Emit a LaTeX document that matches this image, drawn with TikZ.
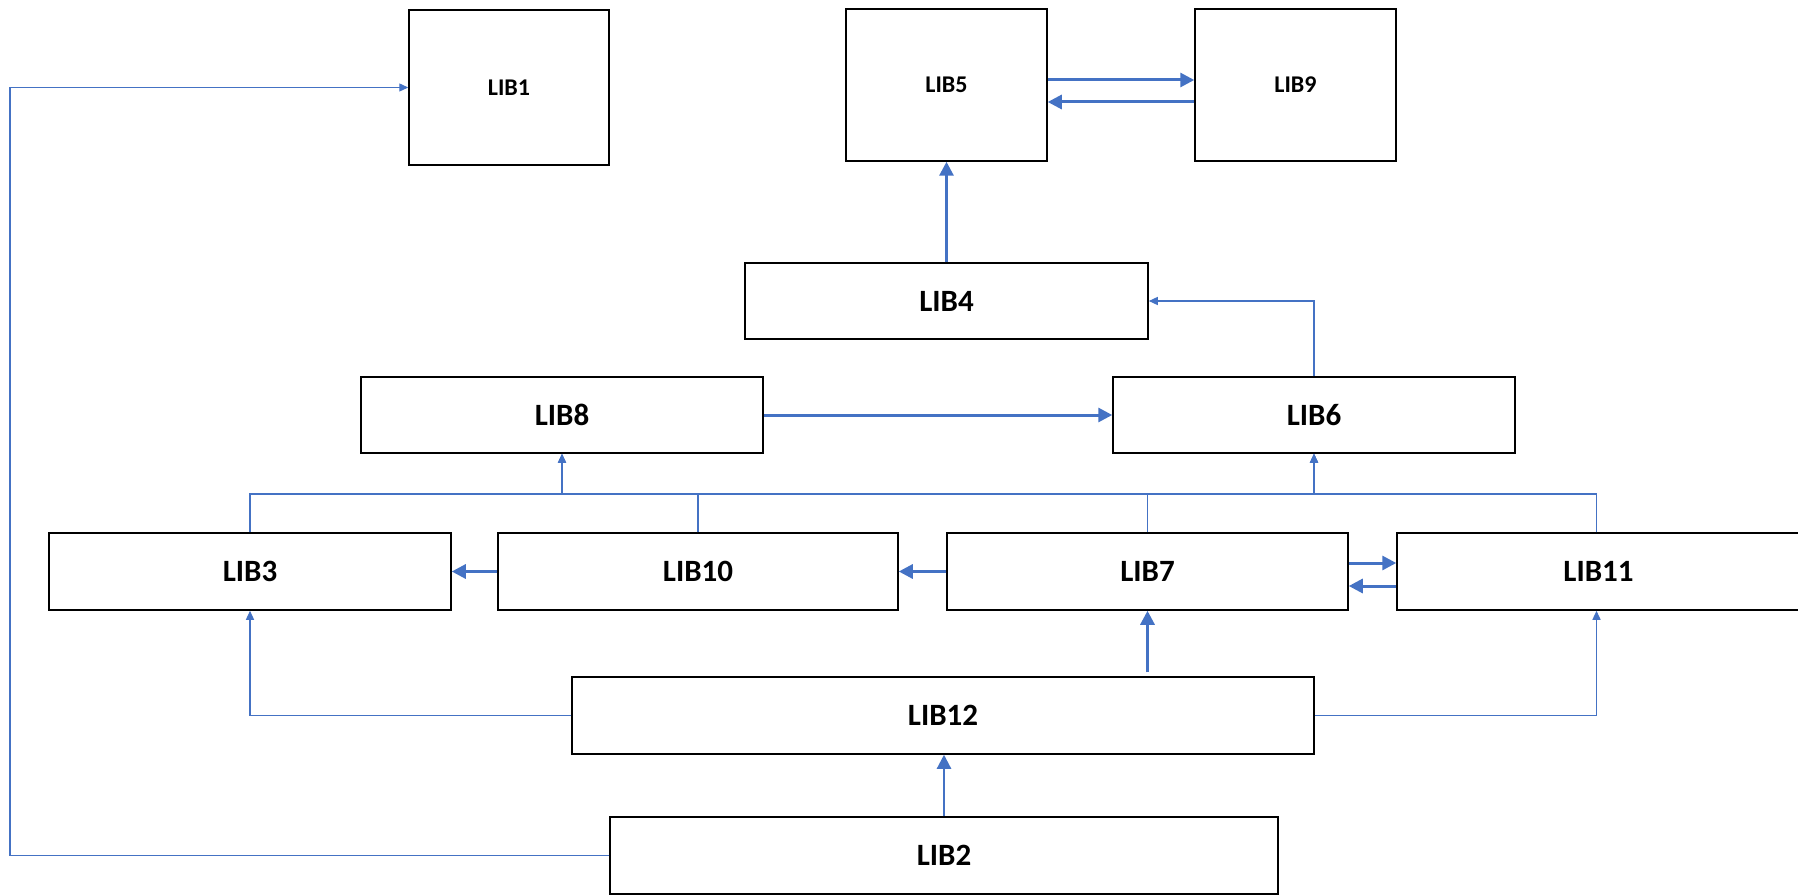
\documentclass[tikz,border=0pt]{standalone}
\usepackage{fontspec}
\setmainfont{Carlito}
\usetikzlibrary{arrows.meta}
\definecolor{conn}{RGB}{68,114,196}
\tikzset{
  box/.style={draw=black, line width=1.5pt, fill=white, inner sep=0pt, font=\bfseries\fontsize{31}{31}\selectfont},
  sbox/.style={box, font=\bfseries\fontsize{24}{24}\selectfont},
  thinarr/.style={draw=conn, line width=1.3pt, -{Triangle[length=9pt,width=8pt]}},
  thickarr/.style={draw=conn, line width=3pt, -{Triangle[length=14pt,width=14pt]}},
  medarr/.style={draw=conn, line width=2.2pt, -{Triangle[length=14pt,width=14pt]}}
}
\begin{document}
\begin{tikzpicture}[x=1pt,y=-1pt]
\useasboundingbox (0,0) rectangle (1798,896);
\fill[white] (0,0) rectangle (1798,896);
% nodes
\node[sbox, minimum width=200pt, minimum height=155pt] (lib1) at (509,87.5) {LIB1};
\node[sbox, minimum width=201pt, minimum height=152pt] (lib5) at (946.5,85) {LIB5};
\node[sbox, minimum width=201pt, minimum height=152pt] (lib9) at (1295.5,85) {LIB9};
\node[box, minimum width=403pt, minimum height=76pt] (lib4) at (946.5,301) {LIB4};
\node[box, minimum width=402pt, minimum height=76pt] (lib8) at (562,415) {LIB8};
\node[box, minimum width=402pt, minimum height=76pt] (lib6) at (1314,415) {LIB6};
\node[box, minimum width=402pt, minimum height=77pt] (lib3) at (250,571.5) {LIB3};
\node[box, minimum width=400pt, minimum height=77pt] (lib10) at (698,571.5) {LIB10};
\node[box, minimum width=401pt, minimum height=77pt] (lib7) at (1147.5,571.5) {LIB7};
\node[box, minimum width=403pt, minimum height=77pt] (lib11) at (1598.5,571.5) {LIB11};
\node[box, minimum width=742pt, minimum height=77pt] (lib12) at (943,715.5) {LIB12};
\node[box, minimum width=668pt, minimum height=77pt] (lib2) at (944,855.5) {LIB2};
% bus coordinates
\coordinate (b8) at (562,494);
\coordinate (b6) at (1314,494);
\coordinate (left) at (10,855.5);
% connectors
\draw[thinarr] (lib2.west) -- (left) |- (lib1.west);
\draw[medarr] (lib2.north) -- (lib2.north |- lib12.south);
\draw[thinarr] (lib12.west) -| (lib3.south);
\draw[thinarr] (lib12.east) -| ([xshift=-2pt]lib11.south);
\draw[thickarr] ([yshift=4pt]lib12.north -| lib7.south) -- (lib7.south);
\draw[thickarr] (lib10.west) -- (lib3.east);
\draw[thickarr] (lib7.west) -- (lib10.east);
\draw[thickarr] ([yshift=8.5pt]lib7.east) -- ([yshift=8.5pt]lib11.west);
\draw[thickarr] ([yshift=-14.5pt]lib11.west) -- ([yshift=-14.5pt]lib7.east);
\draw[thinarr] (lib3.north) |- (b8) -- (lib8.south);
\draw[thinarr] (lib10.north) |- (b8) -- (lib8.south);
\draw[thinarr] (lib10.north) |- (b6) -- (lib6.south);
\draw[thinarr] (lib7.north) |- (b6) -- (lib6.south);
\draw[thinarr] ([xshift=-2pt]lib11.north) |- (b6) -- (lib6.south);
\draw[thinarr] (lib6.north) |- (lib4.east);
\draw[thickarr] (lib8.east) -- (lib6.west);
\draw[thickarr] (lib4.north) -- (lib5.south);
\draw[thickarr] ([yshift=5pt]lib5.east) -- ([yshift=5pt]lib9.west);
\draw[thickarr] ([yshift=-17pt]lib9.west) -- ([yshift=-17pt]lib5.east);
\end{tikzpicture}
\end{document}
